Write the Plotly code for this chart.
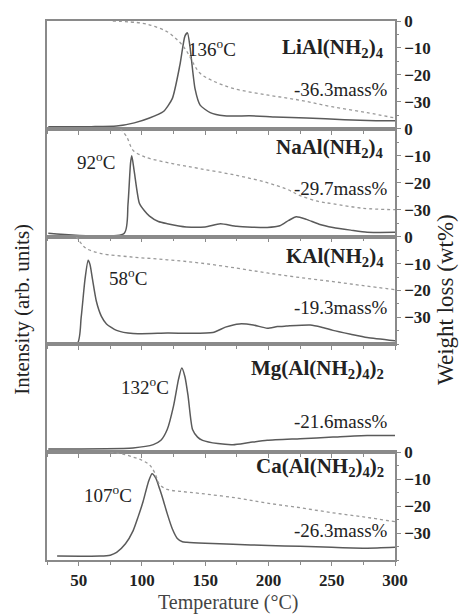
import plotly.graph_objects as go

# ---------------- data ----------------
compounds = ["LiAl(NH<sub>2</sub>)<sub>4</sub>", "NaAl(NH<sub>2</sub>)<sub>4</sub>",
             "KAl(NH<sub>2</sub>)<sub>4</sub>", "Mg(Al(NH<sub>2</sub>)<sub>4</sub>)<sub>2</sub>",
             "Ca(Al(NH<sub>2</sub>)<sub>4</sub>)<sub>2</sub>"]
peak_labels = ["136<sup>o</sup>C", "92<sup>o</sup>C", "58<sup>o</sup>C", "132<sup>o</sup>C", "107<sup>o</sup>C"]
mass_labels = ["-36.3mass%", "-29.7mass%", "-19.3mass%", "-21.6mass%", "-26.3mass%"]

li_T = [26, 60, 80, 94, 106, 117, 124, 130, 134, 136, 138, 142, 146, 154, 165, 185, 198, 205, 230, 260, 285, 300]
li_I = [.02, .02, .025, .055, .10, .16, .28, .59, .86, .89, .76, .37, .22, .15, .12, .12, .115, .11, .10, .085, .075, .075]
li_wT = [77, 100, 110, 120, 127, 132, 136, 141, 146, 155, 172, 200, 225, 250, 278, 300]
li_W = [0, -0.8, -2, -4, -6.6, -9, -11.7, -16, -19.4, -22, -25, -27.5, -29.4, -31.8, -34, -36]

na_T = [26, 86, 89, 91, 92, 94, 98, 102, 106, 113, 120, 135, 150, 162, 175, 199, 209, 216, 222, 230, 240, 251, 265, 278, 300]
na_I = [.03, .03, .30, .68, .75, .60, .31, .24, .19, .14, .12, .09, .09, .12, .095, .085, .10, .15, .185, .16, .115, .085, .06, .04, .04]
na_wT = [83, 88, 93, 100, 106, 125, 146, 175, 199, 215, 225, 240, 251, 275, 300]
na_W = [0, -3, -8, -10, -11, -13, -14.8, -17.3, -20, -22.5, -24.8, -27, -27.8, -29.5, -30]

k_T = [26, 49, 52, 55, 57.5, 59, 61, 64, 68, 72, 80, 93, 120, 156, 166, 177, 188, 199, 207, 214, 233, 242, 251, 265, 278, 300]
k_I = [.01, .01, .25, .60, .78, .74, .60, .40, .26, .19, .13, .10, .105, .11, .16, .19, .18, .15, .165, .17, .18, .16, .13, .095, .065, .035]
k_wT = [48, 52, 56, 67, 93, 120, 146, 175, 199, 225, 251, 275, 300]
k_W = [0, -2.5, -4.4, -6.2, -7.6, -8.6, -9.8, -11.7, -13.5, -15.2, -16.7, -18.2, -19.7]

mg_T = [26, 93, 109, 115, 120, 125, 129, 131.5, 134, 136.5, 140, 144, 148, 160, 172, 185, 199, 225, 251, 278, 300]
mg_I = [.03, .04, .07, .11, .21, .43, .68, .78, .70, .52, .21, .14, .11, .08, .07, .09, .11, .125, .14, .155, .155]
mg_wT = []
mg_W = []

ca_T = [33, 67, 75, 80, 87, 93, 97, 101, 105, 108, 111, 114, 117, 120, 124, 128, 132, 135.5, 150, 172, 200, 225, 250, 278, 300]
ca_I = [.036, .036, .045, .07, .15, .27, .40, .545, .72, .80, .76, .66, .55, .43, .29, .20, .17, .165, .155, .145, .135, .127, .118, .11, .118]
ca_wT = [75, 85, 93, 100, 106, 110, 114, 120, 130, 146, 175, 199, 225, 251, 275, 300]
ca_W = [0, -0.7, -1.8, -3, -4.7, -7.5, -12, -13.8, -14.5, -15.3, -17, -18.9, -20.6, -22.5, -24, -25.8]

x_ticks = [50, 100, 150, 200, 250, 300]
w_ticks = [0, -10, -20, -30]

intensity = [(li_T, li_I), (na_T, na_I), (k_T, k_I), (mg_T, mg_I), (ca_T, ca_I)]
weight = [(li_wT, li_W), (na_wT, na_W), (k_wT, k_W), (mg_wT, mg_W), (ca_wT, ca_W)]

# ---------------- layout helpers ----------------
W, H = 467, 614
L, R, T, B = 47, 395, 15, 560
SERIF = "Liberation Serif, Times New Roman, Times, DejaVu Serif, serif"
AX = "#8a8a8a"
TXT = "#222222"

def px(x):
    return (x - L) / (R - L)

def py(y):
    return (B - y) / (B - T)

n = 5
fig = go.Figure()
layout = dict(
    width=W, height=H, margin=dict(l=L, r=W - R, t=T, b=H - B),
    paper_bgcolor="white", plot_bgcolor="white", showlegend=False,
    font=dict(family=SERIF, color=TXT, size=14),
)

for i in range(n):
    k = i + 1
    kw = k + n
    d0 = 1 - (i + 1) / n
    d1 = 1 - i / n
    xa = "xaxis" if k == 1 else f"xaxis{k}"
    ya = "yaxis" if k == 1 else f"yaxis{k}"
    yw = f"yaxis{kw}"
    bottom = (i == n - 1)
    layout[xa] = dict(
        domain=[0, 1], range=[25, 300], anchor="y" if k == 1 else f"y{k}",
        matches=None if k == 1 else "x",
        tickvals=x_ticks, showticklabels=bottom, ticks="outside", ticklen=4,
        tickcolor=AX, tickwidth=1,
        minor=dict(dtick=25, tick0=25, ticks="outside", ticklen=3, tickcolor=AX),
        showline=True, linecolor=AX, linewidth=1.5, mirror=True,
        showgrid=False, zeroline=False,
        tickfont=dict(family=SERIF, size=17, color=TXT, weight="bold"),
    )
    layout[ya] = dict(
        domain=[d0, d1], range=[0, 1], anchor="x" if k == 1 else f"x{k}",
        showticklabels=False, ticks="", showline=True, linecolor=AX, linewidth=1.5,
        showgrid=False, zeroline=False,
    )
    layout[yw] = dict(
        domain=[d0, d1], range=[-40, 0], anchor="x" if k == 1 else f"x{k}",
        overlaying="y" if k == 1 else f"y{k}", side="right",
        tickvals=w_ticks, ticks="outside", ticklen=4, tickcolor=AX,
        minor=dict(dtick=5, ticks="outside", ticklen=2, tickcolor=AX),
        showline=True, linecolor=AX, linewidth=1.5, showgrid=False, zeroline=False,
        tickfont=dict(family=SERIF, size=17, color=TXT, weight="bold"),
    )
    xs, ys = intensity[i]
    fig.add_trace(go.Scatter(x=xs, y=ys, mode="lines", line=dict(color="#5a5a5a", width=1.5, shape="spline", smoothing=0.6),
                             xaxis="x" if k == 1 else f"x{k}", yaxis="y" if k == 1 else f"y{k}"))
    wx, wy = weight[i]
    if wx:
        fig.add_trace(go.Scatter(x=wx, y=wy, mode="lines", line=dict(color="#9a9a9a", width=1.3, dash="dot", shape="spline"),
                                 xaxis="x" if k == 1 else f"x{k}", yaxis=f"y{kw}"))

fig.update_layout(**layout)

ann = []
comp_y = [42, 143, 254, 367, 466]
mass_y = [84, 184, 305, 420, 530]
peak_xy = [(212, 42), (96, 157), (128, 274), (145, 384), (108, 493)]
for i in range(n):
    ann.append(dict(x=px(386), y=py(comp_y[i]), xref="paper", yref="paper", text=compounds[i],
                    showarrow=False, xanchor="right", yanchor="middle",
                    font=dict(family=SERIF, size=21, color=TXT, weight="bold")))
    ann.append(dict(x=px(390), y=py(mass_y[i]), xref="paper", yref="paper", text=mass_labels[i],
                    showarrow=False, xanchor="right", yanchor="middle",
                    font=dict(family=SERIF, size=19, color=TXT)))
    ann.append(dict(x=px(peak_xy[i][0]), y=py(peak_xy[i][1]), xref="paper", yref="paper", text=peak_labels[i],
                    showarrow=False, xanchor="center", yanchor="middle",
                    font=dict(family=SERIF, size=19, color=TXT)))

ann.append(dict(x=px(228), y=py(603), xref="paper", yref="paper", text="Temperature (°C)",
                showarrow=False, xanchor="center", yanchor="middle",
                font=dict(family=SERIF, size=20, color="#444444")))
ann.append(dict(x=px(22), y=py(307), xref="paper", yref="paper", text="Intensity (arb. units)",
                showarrow=False, xanchor="center", yanchor="middle", textangle=-90,
                font=dict(family=SERIF, size=21, color=TXT)))
ann.append(dict(x=px(446), y=py(297), xref="paper", yref="paper", text="Weight loss (wt%)",
                showarrow=False, xanchor="center", yanchor="middle", textangle=-90,
                font=dict(family=SERIF, size=23, color=TXT)))
fig.update_layout(annotations=ann)

fig.write_html("out.html")
